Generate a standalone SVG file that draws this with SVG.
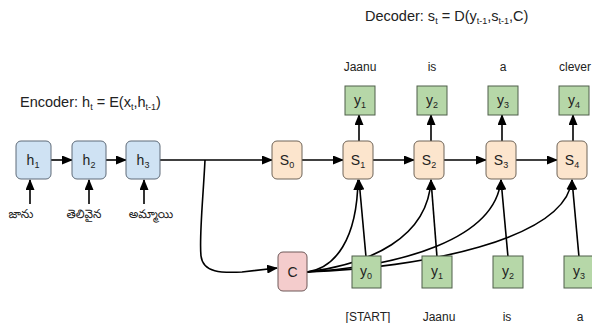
<svg xmlns="http://www.w3.org/2000/svg" width="592" height="323" viewBox="0 0 592 323">
<style>
text{font-family:"Liberation Sans",Arial,sans-serif;fill:#222}
.lbl{font-size:12px;text-anchor:middle}
.bt{font-size:14px;text-anchor:middle}
.sub{font-size:9px}
.hd{font-size:14.5px}
.tel{font-family:"Noto Sans Telugu","Noto Sans",sans-serif;font-size:12px;text-anchor:middle}
.enc{fill:#cfe2f3;stroke:#5f6b78;stroke-width:1}
.dec{fill:#fce5cd;stroke:#6f6458;stroke-width:1}
.ctx{fill:#f4cccc;stroke:#6f5858;stroke-width:1}
.out{fill:#b6d7a8;stroke:#4f5f4a;stroke-width:1}
.ln{fill:none;stroke:#000;stroke-width:1.6}
</style>
<defs>
<marker id="ah" markerWidth="11" markerHeight="9" refX="10" refY="4.5" orient="auto" markerUnits="userSpaceOnUse">
<path d="M0,0 L11,4.5 L0,9 z" fill="#000"/>
</marker>
</defs>

<text class="hd" x="20" y="107">Encoder: h<tspan class="sub" dy="3">t</tspan><tspan dy="-3"> = E(x</tspan><tspan class="sub" dy="3">t</tspan><tspan dy="-3">,h</tspan><tspan class="sub" dy="3">t-1</tspan><tspan dy="-3">)</tspan></text>
<text class="hd" x="365" y="21">Decoder: s<tspan class="sub" dy="3">t</tspan><tspan dy="-3"> = D(y</tspan><tspan class="sub" dy="3">t-1</tspan><tspan dy="-3">,s</tspan><tspan class="sub" dy="3">t-1</tspan><tspan dy="-3">,C)</tspan></text>

<g id="connectors">
<line class="ln" x1="51" y1="160" x2="72" y2="160" marker-end="url(#ah)"/>
<line class="ln" x1="106" y1="160" x2="126" y2="160" marker-end="url(#ah)"/>
<line class="ln" x1="160" y1="160" x2="272" y2="160" marker-end="url(#ah)"/>
<path class="ln" d="M205,160 C203,200 199,238 201,256 C203,273 222,273 242,272 L277,268" marker-end="url(#ah)"/>
<line class="ln" x1="30" y1="204" x2="30" y2="180" marker-end="url(#ah)"/>
<line class="ln" x1="89" y1="204" x2="89" y2="180" marker-end="url(#ah)"/>
<line class="ln" x1="144" y1="204" x2="144" y2="180" marker-end="url(#ah)"/>
<line class="ln" x1="302" y1="160" x2="343" y2="160" marker-end="url(#ah)"/>
<line class="ln" x1="373" y1="160" x2="414" y2="160" marker-end="url(#ah)"/>
<line class="ln" x1="444" y1="160" x2="486" y2="160" marker-end="url(#ah)"/>
<line class="ln" x1="516" y1="160" x2="557" y2="160" marker-end="url(#ah)"/>
<line class="ln" x1="359" y1="141" x2="359" y2="115" marker-end="url(#ah)"/>
<line class="ln" x1="431" y1="141" x2="431" y2="115" marker-end="url(#ah)"/>
<line class="ln" x1="502" y1="141" x2="502" y2="115" marker-end="url(#ah)"/>
<line class="ln" x1="573" y1="141" x2="573" y2="115" marker-end="url(#ah)"/>
<line class="ln" x1="366" y1="257" x2="359" y2="180" marker-end="url(#ah)"/>
<line class="ln" x1="437" y1="257" x2="431" y2="180" marker-end="url(#ah)"/>
<line class="ln" x1="508" y1="257" x2="501" y2="180" marker-end="url(#ah)"/>
<line class="ln" x1="579" y1="257" x2="572" y2="180" marker-end="url(#ah)"/>
<path class="ln" d="M307,272 C335,268 357,240 358,180" marker-end="url(#ah)"/>
<path class="ln" d="M307,272 C370,264 428,238 431,180" marker-end="url(#ah)"/>
<path class="ln" d="M307,272 C400,266 495,240 501,180" marker-end="url(#ah)"/>
<path class="ln" d="M307,272 C420,268 565,240 572,180" marker-end="url(#ah)"/>
</g>

<g id="h1"><rect class="enc" x="16" y="141" width="35" height="38" rx="5"/><text class="bt" x="33" y="165">h<tspan class="sub" dy="3">1</tspan></text></g>
<g id="h2"><rect class="enc" x="72" y="141" width="34" height="38" rx="5"/><text class="bt" x="89" y="165">h<tspan class="sub" dy="3">2</tspan></text></g>
<g id="h3"><rect class="enc" x="126" y="141" width="34" height="38" rx="5"/><text class="bt" x="143" y="165">h<tspan class="sub" dy="3">3</tspan></text></g>

<g id="x1"><text class="tel" x="21" y="218">జాను</text></g>
<g id="x2"><text class="tel" x="84" y="218">తెలివైన</text></g>
<g id="x3"><text class="tel" x="151" y="218">అమ్మాయి</text></g>

<g id="S0"><rect class="dec" x="272" y="141" width="30" height="38" rx="5"/><text class="bt" x="287" y="165">S<tspan class="sub" dy="3">0</tspan></text></g>
<g id="S1"><rect class="dec" x="343" y="141" width="30" height="38" rx="5"/><text class="bt" x="358" y="165">S<tspan class="sub" dy="3">1</tspan></text></g>
<g id="S2"><rect class="dec" x="414" y="141" width="30" height="38" rx="5"/><text class="bt" x="429" y="165">S<tspan class="sub" dy="3">2</tspan></text></g>
<g id="S3"><rect class="dec" x="486" y="141" width="30" height="38" rx="5"/><text class="bt" x="501" y="165">S<tspan class="sub" dy="3">3</tspan></text></g>
<g id="S4"><rect class="dec" x="557" y="141" width="30" height="38" rx="5"/><text class="bt" x="572" y="165">S<tspan class="sub" dy="3">4</tspan></text></g>

<g id="C"><rect class="ctx" x="278" y="252" width="29" height="39" rx="5"/><text class="bt" x="292.5" y="277">C</text></g>

<g id="yo1"><rect class="out" x="345" y="86" width="30" height="29"/><text class="bt" x="360" y="105">y<tspan class="sub" dy="3">1</tspan></text></g>
<g id="yo2"><rect class="out" x="417" y="86" width="30" height="29"/><text class="bt" x="432" y="105">y<tspan class="sub" dy="3">2</tspan></text></g>
<g id="yo3"><rect class="out" x="488" y="86" width="30" height="29"/><text class="bt" x="503" y="105">y<tspan class="sub" dy="3">3</tspan></text></g>
<g id="yo4"><rect class="out" x="559" y="86" width="30" height="29"/><text class="bt" x="574" y="105">y<tspan class="sub" dy="3">4</tspan></text></g>

<g id="yi0"><rect class="out" x="352" y="256" width="29" height="32"/><text class="bt" x="366" y="276">y<tspan class="sub" dy="3">0</tspan></text></g>
<g id="yi1"><rect class="out" x="422" y="256" width="30" height="32"/><text class="bt" x="437" y="276">y<tspan class="sub" dy="3">1</tspan></text></g>
<g id="yi2"><rect class="out" x="493" y="256" width="30" height="32"/><text class="bt" x="508" y="276">y<tspan class="sub" dy="3">2</tspan></text></g>
<g id="yi3"><rect class="out" x="564" y="256" width="30" height="32"/><text class="bt" x="579" y="276">y<tspan class="sub" dy="3">3</tspan></text></g>

<g id="top-labels">
<text class="lbl" x="360" y="71">Jaanu</text>
<text class="lbl" x="432" y="71">is</text>
<text class="lbl" x="503" y="71">a</text>
<text class="lbl" x="575" y="71">clever</text>
</g>
<g id="bottom-labels">
<text class="lbl" x="368" y="321">[START]</text>
<text class="lbl" x="439" y="321">Jaanu</text>
<text class="lbl" x="507" y="321">is</text>
<text class="lbl" x="580" y="321">a</text>
</g>
</svg>
